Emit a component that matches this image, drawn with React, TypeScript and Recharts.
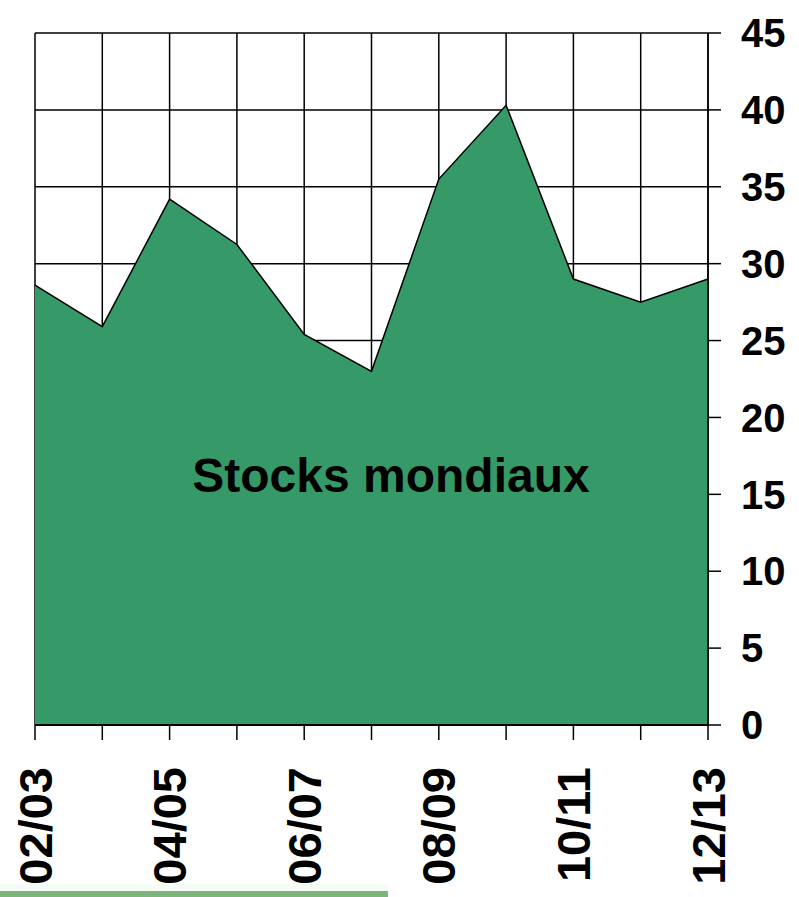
import React from 'react';
import { AreaChart, Area, XAxis, YAxis, CartesianGrid } from 'recharts';

const seasons = ['02/03', '03/04', '04/05', '05/06', '06/07', '07/08', '08/09', '09/10', '10/11', '11/12', '12/13'];
const stocks = [28.6, 25.9, 34.2, 31.25, 25.4, 23.0, 35.5, 40.3, 29.0, 27.5, 29.0];
const yTicks = [0, 5, 10, 15, 20, 25, 30, 35, 40, 45];

const data = seasons.map((s, i) => ({ season: s, stocks: stocks[i] }));

const font = '"Liberation Sans", Arial, sans-serif';

function SeasonTick(props: any) {
  const { x, y, payload, index } = props;
  if (index % 2 !== 0) return null;
  const ty = y + 25;
  return (
    <text
      x={x}
      y={ty}
      transform={`rotate(-90, ${x}, ${ty})`}
      textAnchor="end"
      dominantBaseline="central"
      fontFamily={font}
      fontWeight="bold"
      fontSize={47}
      fill="#000"
    >
      {payload.value}
    </text>
  );
}

export default function App() {
  return (
    <div style={{ position: 'absolute', left: 0, top: 0, width: 799, height: 897, background: '#fff' }}>
      <AreaChart
        width={799}
        height={897}
        data={data}
        margin={{ top: 33, right: 0, left: 35, bottom: 0 }}
      >
        <CartesianGrid stroke="#000" strokeWidth={1.5} />
        <XAxis
          dataKey="season"
          interval={0}
          padding={{ left: 0, right: 0 }}
          height={172}
          tickSize={15}
          tick={<SeasonTick />}
          axisLine={{ stroke: '#000', strokeWidth: 2 }}
          tickLine={{ stroke: '#000', strokeWidth: 1.5 }}
        />
        <YAxis
          orientation="right"
          domain={[0, 45]}
          ticks={yTicks}
          width={91}
          tickSize={13}
          tickMargin={20}
          axisLine={{ stroke: '#000', strokeWidth: 1.5 }}
          tickLine={{ stroke: '#000', strokeWidth: 1.5 }}
          tick={{ fill: '#000', fontFamily: font, fontWeight: 'bold', fontSize: 40, textAnchor: 'start' }}
        />
        <Area
          type="linear"
          dataKey="stocks"
          stroke="#000"
          strokeWidth={1.5}
          fill="#359a67"
          fillOpacity={1}
          isAnimationActive={false}
        />
      </AreaChart>
      <div
        style={{
          position: 'absolute',
          left: 0,
          width: 782,
          top: 448,
          textAlign: 'center',
          fontFamily: font,
          fontWeight: 'bold',
          fontSize: 48,
          lineHeight: '56px',
          color: '#000',
        }}
      >
        Stocks mondiaux
      </div>
      <div style={{ position: 'absolute', left: 0, top: 884, width: 388, height: 7, background: '#eefaee', opacity: 0.6 }} />
      <div style={{ position: 'absolute', left: 0, top: 891, width: 388, height: 6, background: '#7db57d' }} />
    </div>
  );
}
